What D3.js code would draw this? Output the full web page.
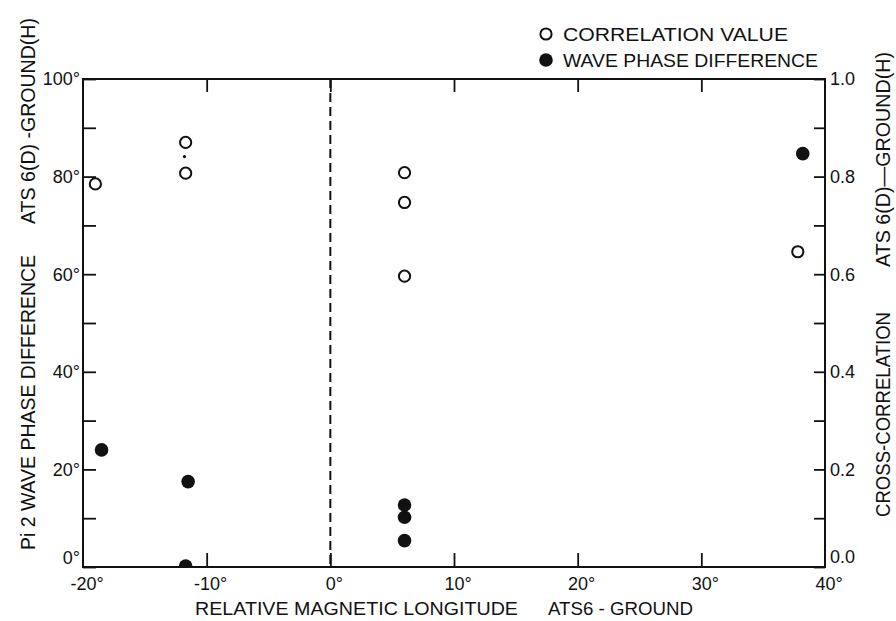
<!DOCTYPE html>
<html>
<head>
<meta charset="utf-8">
<script src="https://cdn.jsdelivr.net/npm/d3@7"></script>
<style>
  body { margin: 0; background: #fff; }
  svg { display: block; }
  text { font-family: "Liberation Sans", "DejaVu Sans", sans-serif; fill: #111; }
</style>
</head>
<body>
<svg id="chart"></svg>
<script>
var width = 896;
var height = 621;

// data
var lonTicks = [-20, -10, 0, 10, 20, 30, 40];
var phaseTicks = [0, 20, 40, 60, 80, 100];
var phaseMinor = [10, 30, 50, 70, 90];
var corrTicks = [0, 0.2, 0.4, 0.6, 0.8, 1.0];
var corrMinor = [0.1, 0.3, 0.5, 0.7, 0.9];

// open circles: cross-correlation value (right axis)
var corrLon = [-19.0, -11.7, -11.7, 6.0, 6.0, 6.0, 37.8];
var corrValue = [0.785, 0.87, 0.807, 0.808, 0.747, 0.596, 0.646];

// filled circles: wave phase difference in degrees (left axis)
var phaseLon = [-18.5, -11.5, -11.7, 6.0, 6.0, 6.0, 38.2];
var phaseValue = [24.0, 17.5, 0.2, 12.7, 10.2, 5.4, 84.7];

// the small speck between the two open circles at -12
var speckLon = [-11.8];
var speckValue = [84.1];

var plot = { left: 83, right: 825, top: 79, bottom: 567 };

var svg =
  d3.select("#chart")
    .attr("width", width)
    .attr("height", height);

// scales
var xScale =
  d3.scaleLinear()
    .domain([-20, 40])
    .range([plot.left, plot.right]);

var yLeft =
  d3.scaleLinear()
    .domain([0, 100])
    .range([plot.bottom, plot.top]);

var yRight =
  d3.scaleLinear()
    .domain([0, 1])
    .range([plot.bottom, plot.top]);

svg.append("clipPath")
    .attr("id", "plot-clip")
  .append("rect")
    .attr("x", plot.left)
    .attr("y", plot.top - 20)
    .attr("width", plot.right - plot.left + 20)
    .attr("height", plot.bottom - plot.top + 20);

// axes: left, right, top, bottom with inward ticks
var tickLen = 13;

svg.append("g")
    .attr("transform", `translate(${plot.left},0)`)
    .call(
      d3.axisRight(yLeft)
        .tickValues(phaseTicks.concat(phaseMinor))
        .tickSize(tickLen)
        .tickFormat("")
    )
    .call(g => g.select(".domain").remove());

svg.append("g")
    .attr("transform", `translate(${plot.right},0)`)
    .call(
      d3.axisLeft(yRight)
        .tickValues(corrTicks.concat(corrMinor))
        .tickSize(11)
        .tickFormat("")
    )
    .call(g => g.select(".domain").remove());

svg.append("g")
    .attr("transform", `translate(0,${plot.top})`)
    .call(
      d3.axisBottom(xScale)
        .tickValues(lonTicks.slice(1, -1))
        .tickSize(tickLen)
        .tickFormat("")
    )
    .call(g => g.select(".domain").remove());

svg.append("g")
    .attr("transform", `translate(0,${plot.bottom})`)
    .call(
      d3.axisTop(xScale)
        .tickValues(lonTicks.slice(1, -1))
        .tickSize(14)
        .tickFormat("")
    )
    .call(g => g.select(".domain").remove());

svg.selectAll(".tick line")
    .attr("stroke", "#111")
    .attr("stroke-width", 1.8);

// frame
svg.append("rect")
    .attr("x", plot.left)
    .attr("y", plot.top)
    .attr("width", plot.right - plot.left)
    .attr("height", plot.bottom - plot.top)
    .attr("fill", "none")
    .attr("stroke", "#111")
    .attr("stroke-width", 2);

// dashed zero line
svg.append("line")
    .attr("x1", xScale(0))
    .attr("x2", xScale(0))
    .attr("y1", plot.top)
    .attr("y2", plot.bottom)
    .attr("stroke", "#111")
    .attr("stroke-width", 2)
    .attr("stroke-dasharray", "9,5");

// tick labels (the zero labels sit a little higher, clear of the x labels)
svg.append("g")
  .selectAll("text")
  .data(phaseTicks)
  .enter()
  .append("text")
    .attr("x", plot.left - 3)
    .attr("y", d => d === 0 ? yLeft(d) - 9 : yLeft(d))
    .attr("dy", "0.36em")
    .attr("text-anchor", "end")
    .style("font-size", "18px")
    .text(d => `${d}°`);

svg.append("g")
  .selectAll("text")
  .data(corrTicks)
  .enter()
  .append("text")
    .attr("x", plot.right + 5)
    .attr("y", d => d === 0 ? yRight(d) - 10 : yRight(d))
    .attr("dy", "0.36em")
    .style("font-size", "18px")
    .text(d => d.toFixed(1));

svg.append("g")
  .selectAll("text")
  .data(lonTicks)
  .enter()
  .append("text")
    .attr("x", d => xScale(d) + 4)
    .attr("y", 590)
    .attr("text-anchor", "middle")
    .style("font-size", "18px")
    .text(d => `${d}°`);

// axis titles
svg.append("text")
    .attr("x", 195)
    .attr("y", 615)
    .attr("textLength", 323)
    .attr("lengthAdjust", "spacingAndGlyphs")
    .style("font-size", "18px")
    .text("RELATIVE MAGNETIC LONGITUDE");

svg.append("text")
    .attr("x", 548)
    .attr("y", 615)
    .attr("textLength", 145)
    .attr("lengthAdjust", "spacingAndGlyphs")
    .style("font-size", "18px")
    .text("ATS6 - GROUND");

svg.append("text")
    .attr("transform", "rotate(-90)")
    .attr("x", -550)
    .attr("y", 35)
    .attr("textLength", 295)
    .attr("lengthAdjust", "spacingAndGlyphs")
    .style("font-size", "20px")
    .text("Pi 2 WAVE PHASE DIFFERENCE");

svg.append("text")
    .attr("transform", "rotate(-90)")
    .attr("x", -224)
    .attr("y", 35)
    .attr("textLength", 206)
    .attr("lengthAdjust", "spacingAndGlyphs")
    .style("font-size", "20px")
    .text("ATS 6(D) -GROUND(H)");

svg.append("text")
    .attr("transform", "rotate(-90)")
    .attr("x", -517)
    .attr("y", 890)
    .attr("textLength", 205)
    .attr("lengthAdjust", "spacingAndGlyphs")
    .style("font-size", "20px")
    .text("CROSS-CORRELATION");

svg.append("text")
    .attr("transform", "rotate(-90)")
    .attr("x", -267)
    .attr("y", 890)
    .attr("textLength", 215)
    .attr("lengthAdjust", "spacingAndGlyphs")
    .style("font-size", "20px")
    .text("ATS 6(D)—GROUND(H)");

// points
var points = svg.append("g").attr("clip-path", "url(#plot-clip)");

points.selectAll(".corr")
  .data(corrLon)
  .enter()
  .append("circle")
    .classed("corr", true)
    .attr("cx", d => xScale(d))
    .attr("cy", (d, i) => yRight(corrValue[i]))
    .attr("r", 5.6)
    .attr("fill", "#fff")
    .attr("stroke", "#111")
    .attr("stroke-width", 2);

points.selectAll(".phase")
  .data(phaseLon)
  .enter()
  .append("circle")
    .classed("phase", true)
    .attr("cx", d => xScale(d))
    .attr("cy", (d, i) => yLeft(phaseValue[i]))
    .attr("r", 6.8)
    .attr("fill", "#111");

points.selectAll(".speck")
  .data(speckLon)
  .enter()
  .append("circle")
    .classed("speck", true)
    .attr("cx", d => xScale(d))
    .attr("cy", (d, i) => yLeft(speckValue[i]))
    .attr("r", 1.6)
    .attr("fill", "#111");

// legend
var legend = svg.append("g");

legend.append("circle")
    .attr("cx", 546)
    .attr("cy", 34)
    .attr("r", 5.6)
    .attr("fill", "#fff")
    .attr("stroke", "#111")
    .attr("stroke-width", 2);

legend.append("circle")
    .attr("cx", 546)
    .attr("cy", 60)
    .attr("r", 6.8)
    .attr("fill", "#111");

legend.append("text")
    .attr("x", 563)
    .attr("y", 41)
    .attr("textLength", 225)
    .attr("lengthAdjust", "spacingAndGlyphs")
    .style("font-size", "18px")
    .text("CORRELATION  VALUE");

legend.append("text")
    .attr("x", 563)
    .attr("y", 67)
    .attr("textLength", 255)
    .attr("lengthAdjust", "spacingAndGlyphs")
    .style("font-size", "18px")
    .text("WAVE PHASE DIFFERENCE");
</script>
</body>
</html>
